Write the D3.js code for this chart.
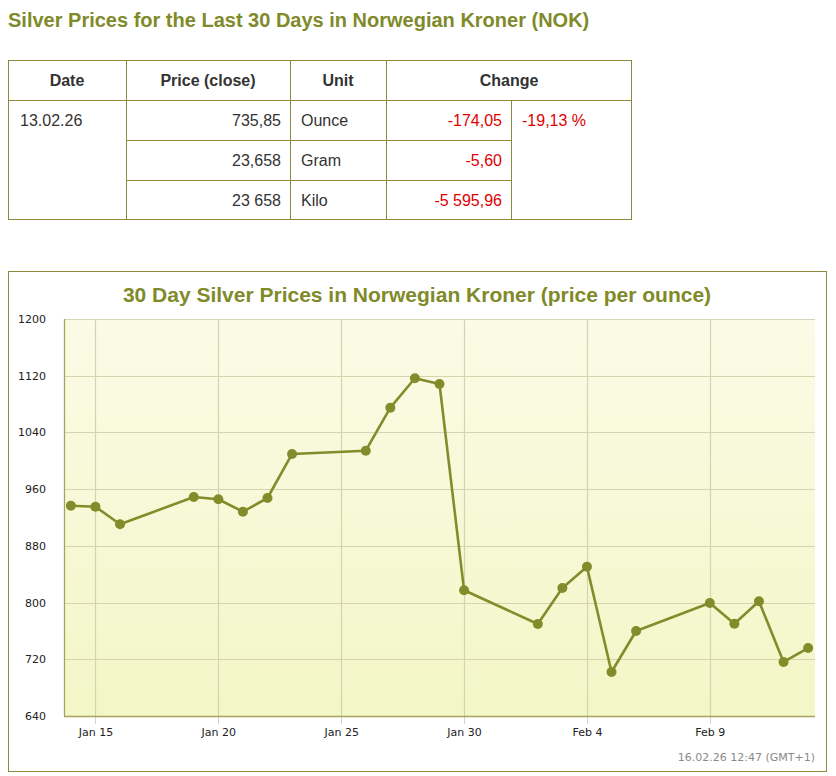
<!DOCTYPE html>
<html><head><meta charset="utf-8">
<script src="https://cdn.jsdelivr.net/npm/d3@7/dist/d3.min.js"></script>
<style>
body{margin:0;background:#fff;}
svg{display:block;}
</style>
</head><body>
<svg id="c" width="836" height="776"></svg>
<script>
// ---- data ----
const dates = ["2026-01-14","2026-01-15","2026-01-16","2026-01-19","2026-01-20","2026-01-21","2026-01-22","2026-01-23",
  "2026-01-26","2026-01-27","2026-01-28","2026-01-29","2026-01-30","2026-02-02","2026-02-03","2026-02-04",
  "2026-02-05","2026-02-06","2026-02-09","2026-02-10","2026-02-11","2026-02-12","2026-02-13"];
const prices = [936.6,935.2,910.4,948.9,945.7,928.2,947.5,1009.6,1014.2,1074.9,1116.4,1108.3,817.3,769.8,820.6,850.6,
  702.1,759.9,799.4,770.2,801.8,716.2,735.85];
const yTicks = [640,720,800,880,960,1040,1120,1200];
const xTickDates = ["2026-01-15","2026-01-20","2026-01-25","2026-01-30","2026-02-04","2026-02-09"];
const tableHeaders = ["Date","Price (close)","Unit","Change"];
const tableDate = "13.02.26";
const tablePrices = ["735,85","23,658","23 658"];
const tableUnits = ["Ounce","Gram","Kilo"];
const tableChanges = ["-174,05","-5,60","-5 595,96"];
const tablePct = "-19,13 %";
const pageTitle = "Silver Prices for the Last 30 Days in Norwegian Kroner (NOK)";
const chartTitle = "30 Day Silver Prices in Norwegian Kroner (price per ounce)";
const stamp = "16.02.26 12:47 (GMT+1)";

const olive = "#7f8a2a";
const svg = d3.select("#c");
const parse = d3.utcParse("%Y-%m-%d");
const fmtTick = d3.utcFormat("%b %-d");

// ---- page title ----
svg.append("text").attr("x",8).attr("y",27).text(pageTitle)
  .attr("font-family","Liberation Sans, Arial, sans-serif").attr("font-weight","bold")
  .attr("font-size",20).attr("fill",olive);

// ---- table ----
const tb = svg.append("g");
const tblBorder = "#8e8a3e";
const tf = "Liberation Sans, Arial, sans-serif";
tb.append("rect").attr("x",8.5).attr("y",60.5).attr("width",623).attr("height",159)
  .attr("fill","none").attr("stroke",tblBorder);
tb.append("line").attr("x1",8).attr("x2",632).attr("y1",100.5).attr("y2",100.5).attr("stroke",tblBorder);
[126,290,386].forEach(x=>tb.append("line").attr("x1",x+0.5).attr("x2",x+0.5).attr("y1",60).attr("y2",220).attr("stroke",tblBorder));
tb.append("line").attr("x1",511.5).attr("x2",511.5).attr("y1",100).attr("y2",220).attr("stroke",tblBorder);
[140,180].forEach(y=>tb.append("line").attr("x1",126).attr("x2",511).attr("y1",y+0.5).attr("y2",y+0.5).attr("stroke",tblBorder));
const hx = [(8+126)/2,(126+290)/2,(290+386)/2,(386+632)/2];
tableHeaders.forEach((h,i)=>tb.append("text").attr("x",hx[i]).attr("y",86).attr("text-anchor","middle")
  .attr("font-family",tf).attr("font-weight","bold").attr("font-size",16).attr("fill","#333").text(h));
tb.append("text").attr("x",20).attr("y",126).attr("font-family",tf).attr("font-size",16).attr("fill","#333").text(tableDate);
tablePrices.forEach((p,i)=>tb.append("text").attr("x",281).attr("y",126+40*i).attr("text-anchor","end")
  .attr("font-family",tf).attr("font-size",16).attr("fill","#333").text(p));
tableUnits.forEach((p,i)=>tb.append("text").attr("x",301).attr("y",126+40*i)
  .attr("font-family",tf).attr("font-size",16).attr("fill","#333").text(p));
tableChanges.forEach((p,i)=>tb.append("text").attr("x",502).attr("y",126+40*i).attr("text-anchor","end")
  .attr("font-family",tf).attr("font-size",16).attr("fill","#e00000").text(p));
tb.append("text").attr("x",522).attr("y",126).attr("font-family",tf).attr("font-size",16).attr("fill","#e00000").text(tablePct);

// ---- chart box ----
svg.append("rect").attr("x",8.5).attr("y",271.5).attr("width",818).attr("height",500)
  .attr("fill","#fff").attr("stroke","#8e8a3e");
svg.append("text").attr("x",417).attr("y",302).attr("text-anchor","middle").text(chartTitle)
  .attr("font-family",tf).attr("font-weight","bold").attr("font-size",21).attr("fill",olive);

const L=64, R=815, T=319, B=716;
const defs = svg.append("defs");
const grad = defs.append("linearGradient").attr("id","bg").attr("x1",0).attr("y1",0).attr("x2",0).attr("y2",1);
grad.append("stop").attr("offset","0%").attr("stop-color","#fbfbe6");
grad.append("stop").attr("offset","100%").attr("stop-color","#f3f6c6");
svg.append("rect").attr("x",L).attr("y",T).attr("width",R-L).attr("height",B-T).attr("fill","url(#bg)");

const data = dates.map((d,i)=>({d:parse(d), v:prices[i]}));
const pad = 0.28*864e5;
const x = d3.scaleUtc().domain([+data[0].d - pad, +data[data.length-1].d + pad]).range([L,R]);
const y = d3.scaleLinear().domain([640,1200]).range([B,T]);

const gridC = "#d6d4b0";
svg.append("g").selectAll("line").data(yTicks.slice(1)).join("line")
  .attr("x1",L).attr("x2",R).attr("y1",d=>Math.round(y(d))+0.5).attr("y2",d=>Math.round(y(d))+0.5)
  .attr("stroke",gridC).attr("stroke-width",1.2);
const xt = xTickDates.map(parse);
svg.append("g").selectAll("line").data(xt).join("line")
  .attr("x1",d=>Math.round(x(d))+0.5).attr("x2",d=>Math.round(x(d))+0.5).attr("y1",T).attr("y2",B)
  .attr("stroke",gridC).attr("stroke-width",1.2);
svg.append("g").selectAll("line").data(xt).join("line")
  .attr("x1",d=>Math.round(x(d))+0.5).attr("x2",d=>Math.round(x(d))+0.5).attr("y1",B).attr("y2",B+8)
  .attr("stroke","#c8d4e6").attr("stroke-width",1);
svg.append("line").attr("x1",L).attr("x2",R).attr("y1",T+0.5).attr("y2",T+0.5).attr("stroke","#d8d6b8");
svg.append("line").attr("x1",L+0.5).attr("x2",L+0.5).attr("y1",T).attr("y2",B).attr("stroke","#a8a45c").attr("stroke-width",1.3);
svg.append("line").attr("x1",L).attr("x2",R).attr("y1",B+0.5).attr("y2",B+0.5).attr("stroke","#a8a45c").attr("stroke-width",1.3);

const af = "DejaVu Sans, Verdana, sans-serif";
const yAx = svg.append("g").attr("transform",`translate(${L},0)`)
  .call(d3.axisLeft(y).tickValues(yTicks).tickFormat(d3.format("d")).tickSize(0).tickPadding(18));
yAx.select(".domain").remove();
yAx.selectAll("text").attr("font-family",af).attr("font-size",11).attr("fill","#222");
const xAx = svg.append("g").attr("transform",`translate(0,${B})`)
  .call(d3.axisBottom(x).tickValues(xt).tickFormat(fmtTick).tickSize(0).tickPadding(12));
xAx.select(".domain").remove();
xAx.selectAll("text").attr("font-family",af).attr("font-size",11).attr("fill","#222");

svg.append("path").datum(data).attr("fill","none").attr("stroke","#838c2b").attr("stroke-width",2.6)
  .attr("stroke-linejoin","round")
  .attr("d",d3.line().x(d=>x(d.d)).y(d=>y(d.v)));
svg.append("g").selectAll("circle").data(data).join("circle")
  .attr("cx",d=>x(d.d)).attr("cy",d=>y(d.v)).attr("r",5).attr("fill","#838c2b");

svg.append("text").attr("x",815).attr("y",761).attr("text-anchor","end").text(stamp)
  .attr("font-family",af).attr("font-size",11).attr("fill","#8a8a8a");
</script>
</body></html>
